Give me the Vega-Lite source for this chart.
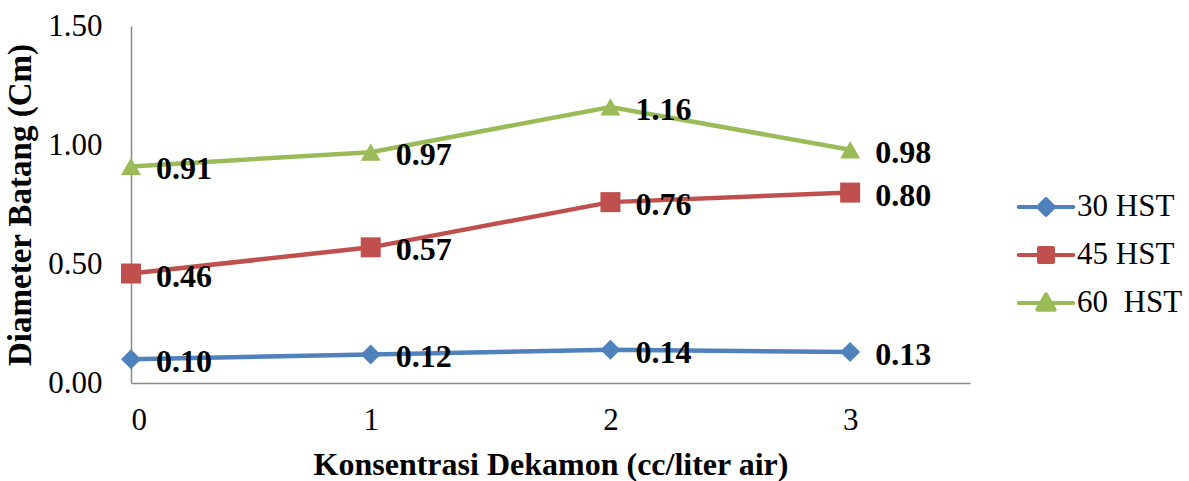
{
  "$schema": "https://vega.github.io/schema/vega-lite/v6.json",
  "width": 839,
  "height": 357,
  "autosize": "none",
  "padding": {"left": 131, "top": 26, "right": 219, "bottom": 98},
  "background": "white",
  "config": {"view": {"stroke": null}, "font": "Liberation Serif"},
  "data": {
    "values": [
      {"x": 0, "value": 0.10, "series": "30 HST"},
      {"x": 1, "value": 0.12, "series": "30 HST"},
      {"x": 2, "value": 0.14, "series": "30 HST"},
      {"x": 3, "value": 0.13, "series": "30 HST"},
      {"x": 0, "value": 0.46, "series": "45 HST"},
      {"x": 1, "value": 0.57, "series": "45 HST"},
      {"x": 2, "value": 0.76, "series": "45 HST"},
      {"x": 3, "value": 0.80, "series": "45 HST"},
      {"x": 0, "value": 0.91, "series": "60\u00a0 HST"},
      {"x": 1, "value": 0.97, "series": "60\u00a0 HST"},
      {"x": 2, "value": 1.16, "series": "60\u00a0 HST"},
      {"x": 3, "value": 0.98, "series": "60\u00a0 HST"}
    ]
  },
  "encoding": {
    "x": {
      "field": "x", "type": "quantitative",
      "scale": {"domain": [0, 3.5], "nice": false, "zero": false},
      "axis": {
        "values": [0, 1, 2, 3], "format": "d",
        "title": "Konsentrasi Dekamon (cc/liter air)",
        "titleFont": "Liberation Serif", "titleFontSize": 32, "titleFontWeight": "bold", "titleColor": "black",
        "labelFont": "Liberation Serif", "labelFontSize": 31, "labelColor": "black",
        "ticks": false, "labelPadding": 22, "titlePadding": 14,
        "domainColor": "#898989", "domainWidth": 1.5, "grid": false
      }
    },
    "y": {
      "field": "value", "type": "quantitative",
      "scale": {"domain": [0, 1.5], "nice": false},
      "axis": {
        "values": [0, 0.5, 1, 1.5], "format": ".2f",
        "title": "Diameter Batang (Cm)",
        "titleFont": "Liberation Serif", "titleFontSize": 33, "titleFontWeight": "bold", "titleColor": "black",
        "labelFont": "Liberation Serif", "labelFontSize": 31, "labelColor": "black",
        "ticks": false, "labelPadding": 29, "titlePadding": 10,
        "domainColor": "#898989", "domainWidth": 1.5, "grid": false
      }
    }
  },
  "layer": [
    {
      "mark": {"type": "line", "strokeWidth": 4.5},
      "encoding": {
        "stroke": {
          "field": "series", "type": "nominal",
          "scale": {"domain": ["30 HST", "45 HST", "60\u00a0 HST"], "range": ["#4F81BD", "#C0504D", "#9BBB59"]},
          "legend": {
            "orient": "none", "legendX": 899, "legendY": 165, "title": null, "padding": 0,
            "labelFont": "Liberation Serif", "labelFontSize": 31, "labelColor": "black",
            "symbolSize": 784, "symbolStrokeWidth": 4, "labelOffset": 15, "rowPadding": 17,
            "encoding": {"symbols": {
              "shape": {"value": {"expr": "datum.value === '30 HST' ? 'M-1.95,0H1.95M0,-0.56L0.56,0L0,0.56L-0.56,0Z' : (datum.value === '45 HST' ? 'M-1.95,0H1.95M-0.5,-0.5H0.5V0.5H-0.5Z' : 'M-1.95,0H1.95M0,-0.62L0.62,0.48H-0.62Z')"}},
              "strokeJoin": {"value": "round"},
              "strokeCap": {"value": "round"}
            }}
          }
        }
      }
    },
    {
      "mark": {"type": "point", "filled": true, "opacity": 1, "size": 400},
      "encoding": {
        "fill": {
          "field": "series", "type": "nominal",
          "scale": {"domain": ["30 HST", "45 HST", "60\u00a0 HST"], "range": ["#4F81BD", "#C0504D", "#9BBB59"]},
          "legend": {
            "orient": "none", "legendX": 899, "legendY": 165, "title": null, "padding": 0,
            "labelFont": "Liberation Serif", "labelFontSize": 31, "labelColor": "black",
            "symbolSize": 784, "symbolStrokeWidth": 4, "labelOffset": 15, "rowPadding": 17,
            "encoding": {"symbols": {
              "shape": {"value": {"expr": "datum.value === '30 HST' ? 'M-1.95,0H1.95M0,-0.56L0.56,0L0,0.56L-0.56,0Z' : (datum.value === '45 HST' ? 'M-1.95,0H1.95M-0.5,-0.5H0.5V0.5H-0.5Z' : 'M-1.95,0H1.95M0,-0.62L0.62,0.48H-0.62Z')"}},
              "strokeJoin": {"value": "round"},
              "strokeCap": {"value": "round"}
            }}
          }
        },
        "shape": {
          "field": "series", "type": "nominal",
          "scale": {"range": ["diamond", "square", "triangle-up"]},
          "legend": null
        }
      }
    },
    {
      "mark": {"type": "text", "align": "left", "baseline": "middle", "dx": 25, "dy": 3, "fontSize": 32, "fontWeight": "bold", "font": "Liberation Serif", "color": "black"},
      "encoding": {
        "text": {"field": "value", "type": "quantitative", "format": ".2f"}
      }
    }
  ]
}
